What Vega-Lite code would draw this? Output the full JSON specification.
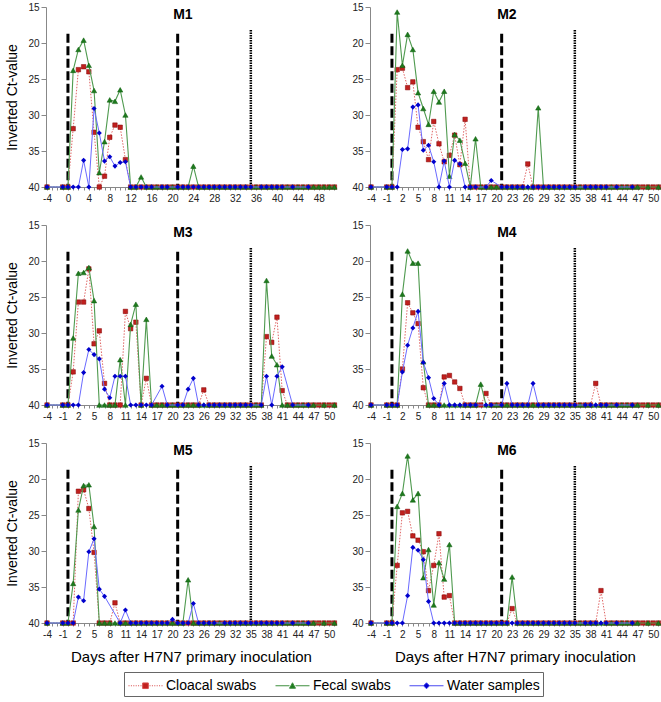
{
"$schema": "https://vega.github.io/schema/vega-lite/v6.json",
"padding": {"left": 5, "top": 2, "right": 0, "bottom": 0},
"config": {
  "view": {"stroke": null},
  "font": "Liberation Sans",
  "axis": {"grid": false, "labelFont": "Liberation Sans", "labelFontSize": 10, "labelColor": "#222", "titleFont": "Liberation Sans", "titleFontSize": 14, "titleFontWeight": "normal", "titleColor": "#000", "domainColor": "#888", "tickColor": "#888", "labelOverlap": false},
  "axisX": {"labelFlush": false, "tickSize": 3, "labelPadding": 3},
  "axisY": {"tickSize": 5, "labelPadding": 2, "titlePadding": 8},
  "legend": {"orient": "bottom", "direction": "horizontal", "labelFont": "Liberation Sans", "labelFontSize": 14, "labelColor": "#000", "symbolSize": 400, "symbolStrokeWidth": 1, "strokeColor": "#666", "padding": 3, "columnPadding": 16, "labelOffset": 18, "offset": 8, "layout": {"bottom": {"anchor": "middle"}}}
},
"datasets": {
"M1": [
{"d":-4,"c":40,"f":40,"w":40},{"d":-1,"c":40,"f":40,"w":40},{"d":0,"c":40,"f":40,"w":40},
{"d":1,"c":31.9,"f":23.8,"w":40},{"d":2,"c":23.7,"f":20.9,"w":40},{"d":3,"c":23.3,"f":19.6,"w":36.3},
{"d":4,"c":24.0,"f":23.1,"w":40},{"d":5,"c":32.4,"f":26.6,"w":29.1},{"d":6,"c":40,"f":38.0,"w":32.5},
{"d":7,"c":38.5,"f":33.7,"w":36.4},{"d":8,"c":33.1,"f":27.9,"w":35.8},{"d":9,"c":31.4,"f":28.1,"w":37.1},
{"d":10,"c":31.7,"f":26.5,"w":36.6},{"d":11,"c":36.2,"f":30.0,"w":36.5},{"d":12,"c":40,"f":40,"w":40},
{"d":13,"c":40,"f":40,"w":40},{"d":14,"c":40,"f":38.6,"w":40},{"d":15,"c":40,"f":40,"w":40},
{"d":16,"c":40,"f":40,"w":40},{"d":17,"c":40,"f":40,"w":null},{"d":18,"c":40,"f":40,"w":40},
{"d":19,"c":40,"f":40,"w":40},{"d":20,"c":40,"f":40,"w":null},{"d":21,"c":40,"f":40,"w":40},
{"d":22,"c":40,"f":40,"w":40},{"d":23,"c":40,"f":40,"w":40},{"d":24,"c":40,"f":37.1,"w":40},
{"d":25,"c":40,"f":40,"w":40},{"d":26,"c":40,"f":40,"w":40},{"d":27,"c":40,"f":40,"w":40},
{"d":28,"c":40,"f":40,"w":40},{"d":29,"c":40,"f":40,"w":40},{"d":30,"c":40,"f":40,"w":40},
{"d":31,"c":40,"f":40,"w":40},{"d":32,"c":40,"f":40,"w":40},{"d":33,"c":40,"f":40,"w":40},
{"d":34,"c":40,"f":40,"w":40},{"d":35,"c":40,"f":40,"w":40},{"d":36,"c":40,"f":40,"w":null},
{"d":37,"c":40,"f":40,"w":40},{"d":38,"c":40,"f":40,"w":40},{"d":39,"c":40,"f":40,"w":40},
{"d":40,"c":40,"f":40,"w":40},{"d":41,"c":40,"f":40,"w":40},{"d":42,"c":40,"f":40,"w":null},
{"d":43,"c":40,"f":40,"w":40},{"d":44,"c":40,"f":40,"w":null},{"d":45,"c":40,"f":40,"w":null},
{"d":46,"c":40,"f":40,"w":40},{"d":47,"c":40,"f":40,"w":null},{"d":48,"c":40,"f":40,"w":null},
{"d":49,"c":40,"f":40,"w":null},{"d":50,"c":40,"f":40,"w":null},{"d":51,"c":40,"f":40,"w":null}
],
"M2": [
{"d":-4,"c":40,"f":40,"w":40},{"d":-1,"c":40,"f":40,"w":40},{"d":0,"c":40,"f":40,"w":40},
{"d":1,"c":23.7,"f":15.7,"w":40},{"d":2,"c":23.5,"f":23.1,"w":34.8},{"d":3,"c":26.2,"f":18.8,"w":34.7},
{"d":4,"c":25.4,"f":20.9,"w":28.9},{"d":5,"c":31.7,"f":26.9,"w":28.6},{"d":6,"c":33.7,"f":29.1,"w":34.9},
{"d":7,"c":36.2,"f":31.3,"w":34.2},{"d":8,"c":30.9,"f":26.7,"w":36.5},{"d":9,"c":34.0,"f":28.2,"w":40},
{"d":10,"c":36.5,"f":26.7,"w":36.4},{"d":11,"c":35.6,"f":38.5,"w":40},{"d":12,"c":32.8,"f":32.7,"w":36.3},
{"d":13,"c":36.9,"f":33.5,"w":36.8},{"d":14,"c":30.6,"f":36.7,"w":40},{"d":15,"c":40,"f":40,"w":40},
{"d":16,"c":40,"f":33.3,"w":40},{"d":17,"c":40,"f":40,"w":null},{"d":18,"c":40,"f":40,"w":40},
{"d":19,"c":40,"f":40,"w":39.1},{"d":20,"c":40,"f":40,"w":null},{"d":21,"c":40,"f":40,"w":40},
{"d":22,"c":40,"f":40,"w":40},{"d":23,"c":40,"f":40,"w":40},{"d":24,"c":40,"f":40,"w":40},
{"d":25,"c":40,"f":40,"w":40},{"d":26,"c":36.8,"f":40,"w":40},{"d":27,"c":40,"f":40,"w":40},
{"d":28,"c":40,"f":29.0,"w":40},{"d":29,"c":40,"f":40,"w":40},{"d":30,"c":40,"f":40,"w":40},
{"d":31,"c":40,"f":40,"w":40},{"d":32,"c":40,"f":40,"w":40},{"d":33,"c":40,"f":40,"w":40},
{"d":34,"c":40,"f":40,"w":40},{"d":35,"c":40,"f":40,"w":40},{"d":36,"c":40,"f":40,"w":null},
{"d":37,"c":40,"f":40,"w":40},{"d":38,"c":40,"f":40,"w":40},{"d":39,"c":40,"f":40,"w":40},
{"d":40,"c":40,"f":40,"w":40},{"d":41,"c":40,"f":40,"w":40},{"d":42,"c":40,"f":40,"w":null},
{"d":43,"c":40,"f":40,"w":40},{"d":44,"c":40,"f":40,"w":null},{"d":45,"c":40,"f":40,"w":null},
{"d":46,"c":40,"f":40,"w":40},{"d":47,"c":40,"f":40,"w":null},{"d":48,"c":40,"f":null,"w":null},
{"d":49,"c":40,"f":40,"w":null},{"d":50,"c":40,"f":null,"w":null},{"d":51,"c":40,"f":40,"w":null}
],
"M3": [
{"d":-4,"c":40,"f":40,"w":40},{"d":-1,"c":40,"f":40,"w":40},{"d":0,"c":40,"f":40,"w":40},
{"d":1,"c":35.4,"f":30.7,"w":40},{"d":2,"c":25.7,"f":21.7,"w":40},{"d":3,"c":25.7,"f":21.6,"w":35.5},
{"d":4,"c":21.1,"f":20.9,"w":32.3},{"d":5,"c":31.5,"f":25.5,"w":33.0},{"d":6,"c":29.7,"f":40,"w":33.6},
{"d":7,"c":37.0,"f":40,"w":37.8},{"d":8,"c":40,"f":40,"w":39.0},{"d":9,"c":40,"f":40,"w":36.0},
{"d":10,"c":40,"f":33.7,"w":36.0},{"d":11,"c":27.0,"f":40,"w":36.0},{"d":12,"c":29.4,"f":28.8,"w":40},
{"d":13,"c":28.5,"f":26.0,"w":40},{"d":14,"c":40,"f":40,"w":40},{"d":15,"c":36.3,"f":28.1,"w":40},
{"d":16,"c":40,"f":40,"w":40},{"d":17,"c":40,"f":40,"w":null},{"d":18,"c":40,"f":40,"w":37.4},
{"d":19,"c":40,"f":40,"w":40},{"d":20,"c":40,"f":40,"w":null},{"d":21,"c":40,"f":40,"w":40},
{"d":22,"c":40,"f":40,"w":40},{"d":23,"c":40,"f":40,"w":37.8},{"d":24,"c":40,"f":40,"w":36.3},
{"d":25,"c":40,"f":40,"w":40},{"d":26,"c":37.9,"f":40,"w":40},{"d":27,"c":40,"f":40,"w":40},
{"d":28,"c":40,"f":40,"w":40},{"d":29,"c":40,"f":40,"w":40},{"d":30,"c":40,"f":40,"w":40},
{"d":31,"c":40,"f":40,"w":40},{"d":32,"c":40,"f":40,"w":40},{"d":33,"c":40,"f":40,"w":40},
{"d":34,"c":40,"f":40,"w":40},{"d":35,"c":40,"f":40,"w":40},{"d":36,"c":40,"f":40,"w":null},
{"d":37,"c":40,"f":40,"w":40},{"d":38,"c":30.5,"f":22.7,"w":36.0},{"d":39,"c":31.3,"f":33.2,"w":40},
{"d":40,"c":27.8,"f":34.4,"w":36.0},{"d":41,"c":38.0,"f":40,"w":34.7},{"d":42,"c":40,"f":40,"w":null},
{"d":43,"c":40,"f":40,"w":40},{"d":44,"c":40,"f":40,"w":null},{"d":45,"c":40,"f":40,"w":null},
{"d":46,"c":40,"f":40,"w":40},{"d":47,"c":40,"f":40,"w":null},{"d":48,"c":40,"f":null,"w":null},
{"d":49,"c":40,"f":40,"w":null},{"d":50,"c":40,"f":null,"w":null},{"d":51,"c":40,"f":40,"w":null}
],
"M4": [
{"d":-4,"c":40,"f":40,"w":40},{"d":-1,"c":40,"f":40,"w":40},{"d":0,"c":40,"f":40,"w":40},
{"d":1,"c":40,"f":40,"w":40},{"d":2,"c":35.0,"f":24.6,"w":35.4},{"d":3,"c":25.8,"f":18.6,"w":31.7},
{"d":4,"c":27.2,"f":20.3,"w":29.3},{"d":5,"c":28.7,"f":20.3,"w":27.0},{"d":6,"c":37.6,"f":34.0,"w":34.1},
{"d":7,"c":40,"f":40,"w":36.2},{"d":8,"c":40,"f":40,"w":39.1},{"d":9,"c":40,"f":40,"w":40},
{"d":10,"c":36.1,"f":40,"w":37.0},{"d":11,"c":35.9,"f":40,"w":40},{"d":12,"c":36.8,"f":40,"w":40},
{"d":13,"c":37.7,"f":40,"w":40},{"d":14,"c":40,"f":40,"w":40},{"d":15,"c":40,"f":40,"w":40},
{"d":16,"c":40,"f":40,"w":40},{"d":17,"c":40,"f":37.1,"w":null},{"d":18,"c":38.4,"f":40,"w":40},
{"d":19,"c":40,"f":40,"w":40},{"d":20,"c":40,"f":40,"w":null},{"d":21,"c":40,"f":40,"w":40},
{"d":22,"c":40,"f":40,"w":37.0},{"d":23,"c":40,"f":40,"w":40},{"d":24,"c":40,"f":40,"w":40},
{"d":25,"c":40,"f":40,"w":40},{"d":26,"c":40,"f":40,"w":40},{"d":27,"c":40,"f":40,"w":37.0},
{"d":28,"c":40,"f":40,"w":40},{"d":29,"c":40,"f":40,"w":40},{"d":30,"c":40,"f":40,"w":40},
{"d":31,"c":40,"f":40,"w":40},{"d":32,"c":40,"f":40,"w":40},{"d":33,"c":40,"f":40,"w":40},
{"d":34,"c":40,"f":40,"w":40},{"d":35,"c":40,"f":40,"w":40},{"d":36,"c":40,"f":40,"w":null},
{"d":37,"c":40,"f":40,"w":40},{"d":38,"c":40,"f":40,"w":40},{"d":39,"c":37.0,"f":40,"w":40},
{"d":40,"c":40,"f":40,"w":40},{"d":41,"c":40,"f":40,"w":40},{"d":42,"c":40,"f":40,"w":null},
{"d":43,"c":40,"f":40,"w":40},{"d":44,"c":40,"f":40,"w":null},{"d":45,"c":40,"f":40,"w":null},
{"d":46,"c":40,"f":40,"w":40},{"d":47,"c":40,"f":40,"w":null},{"d":48,"c":40,"f":null,"w":null},
{"d":49,"c":40,"f":40,"w":null},{"d":50,"c":40,"f":null,"w":null},{"d":51,"c":40,"f":40,"w":null}
],
"M5": [
{"d":-4,"c":40,"f":40,"w":40},{"d":-1,"c":40,"f":40,"w":40},{"d":0,"c":40,"f":40,"w":40},
{"d":1,"c":40,"f":34.5,"w":40},{"d":2,"c":21.7,"f":24.3,"w":36.4},{"d":3,"c":21.5,"f":20.9,"w":36.9},
{"d":4,"c":24.1,"f":20.8,"w":30.1},{"d":5,"c":30.2,"f":26.6,"w":28.3},{"d":6,"c":40,"f":40,"w":35.3},
{"d":7,"c":40,"f":40,"w":36.3},{"d":8,"c":40,"f":40,"w":null},{"d":9,"c":37.2,"f":40,"w":null},
{"d":10,"c":40,"f":40,"w":40},{"d":11,"c":40,"f":40,"w":38.2},{"d":12,"c":40,"f":40,"w":40},
{"d":13,"c":40,"f":40,"w":40},{"d":14,"c":40,"f":40,"w":40},{"d":15,"c":40,"f":40,"w":40},
{"d":16,"c":40,"f":40,"w":40},{"d":17,"c":40,"f":40,"w":40},{"d":18,"c":40,"f":40,"w":40},
{"d":19,"c":40,"f":40,"w":40},{"d":20,"c":40,"f":40,"w":39.5},{"d":21,"c":40,"f":40,"w":40},
{"d":22,"c":40,"f":40,"w":40},{"d":23,"c":40,"f":34.0,"w":40},{"d":24,"c":40,"f":40,"w":37.3},
{"d":25,"c":40,"f":40,"w":40},{"d":26,"c":40,"f":40,"w":40},{"d":27,"c":40,"f":40,"w":40},
{"d":28,"c":40,"f":40,"w":40},{"d":29,"c":40,"f":40,"w":null},{"d":30,"c":40,"f":40,"w":40},
{"d":31,"c":40,"f":40,"w":40},{"d":32,"c":40,"f":40,"w":40},{"d":33,"c":40,"f":40,"w":40},
{"d":34,"c":40,"f":40,"w":40},{"d":35,"c":40,"f":40,"w":40},{"d":36,"c":40,"f":40,"w":40},
{"d":37,"c":40,"f":40,"w":40},{"d":38,"c":40,"f":40,"w":40},{"d":39,"c":40,"f":40,"w":40},
{"d":40,"c":40,"f":40,"w":40},{"d":41,"c":40,"f":40,"w":40},{"d":42,"c":40,"f":40,"w":null},
{"d":43,"c":40,"f":40,"w":40},{"d":44,"c":40,"f":40,"w":null},{"d":45,"c":40,"f":40,"w":null},
{"d":46,"c":40,"f":40,"w":40},{"d":47,"c":40,"f":40,"w":null},{"d":48,"c":40,"f":null,"w":null},
{"d":49,"c":40,"f":40,"w":null},{"d":50,"c":40,"f":null,"w":null},{"d":51,"c":40,"f":40,"w":null}
],
"M6": [
{"d":-4,"c":40,"f":40,"w":40},{"d":-1,"c":40,"f":40,"w":40},{"d":0,"c":40,"f":40,"w":40},
{"d":1,"c":32.0,"f":23.8,"w":40},{"d":2,"c":24.7,"f":22.0,"w":40},{"d":3,"c":24.5,"f":16.8,"w":36.2},
{"d":4,"c":27.9,"f":22.9,"w":29.5},{"d":5,"c":28.5,"f":22.0,"w":29.9},{"d":6,"c":30.1,"f":33.7,"w":31.2},
{"d":7,"c":35.5,"f":29.8,"w":37.0},{"d":8,"c":32.0,"f":37.5,"w":40},{"d":9,"c":27.6,"f":31.6,"w":40},
{"d":10,"c":36.4,"f":33.9,"w":40},{"d":11,"c":36.2,"f":29.1,"w":40},{"d":12,"c":40,"f":40,"w":40},
{"d":13,"c":40,"f":40,"w":40},{"d":14,"c":40,"f":40,"w":40},{"d":15,"c":40,"f":40,"w":40},
{"d":16,"c":40,"f":40,"w":40},{"d":17,"c":40,"f":40,"w":40},{"d":18,"c":40,"f":40,"w":40},
{"d":19,"c":40,"f":40,"w":40},{"d":20,"c":40,"f":40,"w":40},{"d":21,"c":40,"f":40,"w":40},
{"d":22,"c":40,"f":40,"w":40},{"d":23,"c":38.0,"f":33.6,"w":40},{"d":24,"c":40,"f":40,"w":40},
{"d":25,"c":40,"f":40,"w":40},{"d":26,"c":40,"f":40,"w":40},{"d":27,"c":40,"f":40,"w":40},
{"d":28,"c":40,"f":40,"w":40},{"d":29,"c":40,"f":40,"w":40},{"d":30,"c":40,"f":40,"w":40},
{"d":31,"c":40,"f":40,"w":40},{"d":32,"c":40,"f":40,"w":40},{"d":33,"c":40,"f":40,"w":40},
{"d":34,"c":40,"f":40,"w":40},{"d":35,"c":40,"f":40,"w":40},{"d":36,"c":40,"f":40,"w":null},
{"d":37,"c":40,"f":40,"w":40},{"d":38,"c":40,"f":40,"w":40},{"d":39,"c":40,"f":40,"w":40},
{"d":40,"c":35.5,"f":40,"w":40},{"d":41,"c":40,"f":40,"w":40},{"d":42,"c":40,"f":40,"w":null},
{"d":43,"c":40,"f":40,"w":40},{"d":44,"c":40,"f":40,"w":null},{"d":45,"c":40,"f":40,"w":null},
{"d":46,"c":40,"f":40,"w":40},{"d":47,"c":40,"f":40,"w":null},{"d":48,"c":40,"f":null,"w":null},
{"d":49,"c":40,"f":40,"w":null},{"d":50,"c":40,"f":null,"w":null},{"d":51,"c":40,"f":40,"w":null}
]
},
"columns": 2,
"spacing": {"row": 38, "column": 34},
"bounds": "flush",
"concat": [
{"width": 290, "height": 180,
 "layer": [
  {"data": {"values": [{}]}, "mark": {"type": "rule", "color": "#000", "strokeWidth": 3, "strokeDash": [9, 3.5]}, "encoding": {
    "x": {"datum": 0, "type": "quantitative", "scale": {"domain": [-4.2, 51.3], "nice": false, "zero": false}, "axis": {"tickCount": 56, "tickMinStep": 1, "labelExpr": "(datum.value+4)%4==0 ? '' + datum.value : ''", "title": null}},
    "y": {"datum": 18.7, "type": "quantitative", "scale": {"domain": [15, 40], "reverse": true, "nice": false, "zero": false}, "axis": {"tickCount": 5, "title": "Inverted Ct-value"}},
    "y2": {"datum": 40}}},
  {"data": {"values": [{}]}, "mark": {"type": "rule", "color": "#000", "strokeWidth": 3, "strokeDash": [9, 3.5]}, "encoding": {
    "x": {"datum": 21, "type": "quantitative", "scale": {"domain": [-4.2, 51.3], "nice": false, "zero": false}, "axis": {"tickCount": 56, "tickMinStep": 1, "labelExpr": "(datum.value+4)%4==0 ? '' + datum.value : ''", "title": null}},
    "y": {"datum": 18.7, "type": "quantitative", "scale": {"domain": [15, 40], "reverse": true, "nice": false, "zero": false}, "axis": {"tickCount": 5, "title": "Inverted Ct-value"}},
    "y2": {"datum": 40}}},
  {"data": {"values": [{}]}, "mark": {"type": "rule", "color": "#000", "strokeWidth": 2.5, "strokeDash": [1.5, 1]}, "encoding": {
    "x": {"datum": 35, "type": "quantitative", "scale": {"domain": [-4.2, 51.3], "nice": false, "zero": false}, "axis": {"tickCount": 56, "tickMinStep": 1, "labelExpr": "(datum.value+4)%4==0 ? '' + datum.value : ''", "title": null}},
    "y": {"datum": 18.2, "type": "quantitative", "scale": {"domain": [15, 40], "reverse": true, "nice": false, "zero": false}, "axis": {"tickCount": 5, "title": "Inverted Ct-value"}},
    "y2": {"datum": 40}}},
  {"data": {"name": "M1"}, "transform": [{"fold": ["c", "f", "w"], "as": ["s", "val"]}, {"filter": "isValid(datum.val)"}],
   "encoding": {
    "x": {"field": "d", "type": "quantitative", "scale": {"domain": [-4.2, 51.3], "nice": false, "zero": false}, "axis": {"tickCount": 56, "tickMinStep": 1, "labelExpr": "(datum.value+4)%4==0 ? '' + datum.value : ''", "title": null}},
    "y": {"field": "val", "type": "quantitative", "scale": {"domain": [15, 40], "reverse": true, "nice": false, "zero": false}, "axis": {"tickCount": 5, "title": "Inverted Ct-value"}}},
   "layer": [
    {"transform": [{"filter": "datum.s=='c'"}], "mark": {"type": "line", "color": "#e06666", "strokeWidth": 1, "strokeDash": [1.5, 1.5]}, "encoding": {}},
    {"transform": [{"filter": "datum.s=='c'"}], "mark": {"type": "point", "shape": "square", "filled": true, "color": "#c0201e", "stroke": "#800000", "strokeWidth": 0.5, "size": 20, "opacity": 1}, "encoding": {}},
    {"transform": [{"filter": "datum.s=='f'"}], "mark": {"type": "line", "color": "#4f9a4f", "strokeWidth": 1.1}, "encoding": {}},
    {"transform": [{"filter": "datum.s=='f'"}], "mark": {"type": "point", "shape": "triangle-up", "filled": true, "color": "#1e7b1e", "stroke": "#0b5a0b", "strokeWidth": 0.5, "size": 28, "opacity": 1}, "encoding": {}},
    {"transform": [{"filter": "datum.s=='w'"}], "mark": {"type": "line", "color": "#6a6aff", "strokeWidth": 1}, "encoding": {}},
    {"transform": [{"filter": "datum.s=='w'"}], "mark": {"type": "point", "shape": "diamond", "filled": true, "color": "#0000cc", "size": 26, "opacity": 1}, "encoding": {}}]},
  {"data": {"values": [{}]}, "mark": {"type": "text", "font": "Liberation Sans", "fontSize": 14, "fontWeight": "bold", "color": "#000"}, "encoding": {
    "x": {"datum": 22, "type": "quantitative", "scale": {"domain": [-4.2, 51.3], "nice": false, "zero": false}, "axis": {"tickCount": 56, "tickMinStep": 1, "labelExpr": "(datum.value+4)%4==0 ? '' + datum.value : ''", "title": null}},
    "y": {"datum": 16.1, "type": "quantitative", "scale": {"domain": [15, 40], "reverse": true, "nice": false, "zero": false}, "axis": {"tickCount": 5, "title": "Inverted Ct-value"}},
    "text": {"value": "M1"}}}
 ]},
{"width": 290, "height": 180,
 "layer": [
  {"data": {"values": [{}]}, "mark": {"type": "rule", "color": "#000", "strokeWidth": 3, "strokeDash": [9, 3.5]}, "encoding": {
    "x": {"datum": 0, "type": "quantitative", "scale": {"domain": [-4.2, 51.3], "nice": false, "zero": false}, "axis": {"tickCount": 56, "tickMinStep": 1, "labelExpr": "(datum.value+4)%3==0 ? '' + datum.value : ''", "title": null}},
    "y": {"datum": 18.7, "type": "quantitative", "scale": {"domain": [15, 40], "reverse": true, "nice": false, "zero": false}, "axis": {"tickCount": 5, "title": null}},
    "y2": {"datum": 40}}},
  {"data": {"values": [{}]}, "mark": {"type": "rule", "color": "#000", "strokeWidth": 3, "strokeDash": [9, 3.5]}, "encoding": {
    "x": {"datum": 21, "type": "quantitative", "scale": {"domain": [-4.2, 51.3], "nice": false, "zero": false}, "axis": {"tickCount": 56, "tickMinStep": 1, "labelExpr": "(datum.value+4)%3==0 ? '' + datum.value : ''", "title": null}},
    "y": {"datum": 18.7, "type": "quantitative", "scale": {"domain": [15, 40], "reverse": true, "nice": false, "zero": false}, "axis": {"tickCount": 5, "title": null}},
    "y2": {"datum": 40}}},
  {"data": {"values": [{}]}, "mark": {"type": "rule", "color": "#000", "strokeWidth": 2.5, "strokeDash": [1.5, 1]}, "encoding": {
    "x": {"datum": 35, "type": "quantitative", "scale": {"domain": [-4.2, 51.3], "nice": false, "zero": false}, "axis": {"tickCount": 56, "tickMinStep": 1, "labelExpr": "(datum.value+4)%3==0 ? '' + datum.value : ''", "title": null}},
    "y": {"datum": 18.2, "type": "quantitative", "scale": {"domain": [15, 40], "reverse": true, "nice": false, "zero": false}, "axis": {"tickCount": 5, "title": null}},
    "y2": {"datum": 40}}},
  {"data": {"name": "M2"}, "transform": [{"fold": ["c", "f", "w"], "as": ["s", "val"]}, {"filter": "isValid(datum.val)"}],
   "encoding": {
    "x": {"field": "d", "type": "quantitative", "scale": {"domain": [-4.2, 51.3], "nice": false, "zero": false}, "axis": {"tickCount": 56, "tickMinStep": 1, "labelExpr": "(datum.value+4)%3==0 ? '' + datum.value : ''", "title": null}},
    "y": {"field": "val", "type": "quantitative", "scale": {"domain": [15, 40], "reverse": true, "nice": false, "zero": false}, "axis": {"tickCount": 5, "title": null}}},
   "layer": [
    {"transform": [{"filter": "datum.s=='c'"}], "mark": {"type": "line", "color": "#e06666", "strokeWidth": 1, "strokeDash": [1.5, 1.5]}, "encoding": {}},
    {"transform": [{"filter": "datum.s=='c'"}], "mark": {"type": "point", "shape": "square", "filled": true, "color": "#c0201e", "stroke": "#800000", "strokeWidth": 0.5, "size": 20, "opacity": 1}, "encoding": {}},
    {"transform": [{"filter": "datum.s=='f'"}], "mark": {"type": "line", "color": "#4f9a4f", "strokeWidth": 1.1}, "encoding": {}},
    {"transform": [{"filter": "datum.s=='f'"}], "mark": {"type": "point", "shape": "triangle-up", "filled": true, "color": "#1e7b1e", "stroke": "#0b5a0b", "strokeWidth": 0.5, "size": 28, "opacity": 1}, "encoding": {}},
    {"transform": [{"filter": "datum.s=='w'"}], "mark": {"type": "line", "color": "#6a6aff", "strokeWidth": 1}, "encoding": {}},
    {"transform": [{"filter": "datum.s=='w'"}], "mark": {"type": "point", "shape": "diamond", "filled": true, "color": "#0000cc", "size": 26, "opacity": 1}, "encoding": {}}]},
  {"data": {"values": [{}]}, "mark": {"type": "text", "font": "Liberation Sans", "fontSize": 14, "fontWeight": "bold", "color": "#000"}, "encoding": {
    "x": {"datum": 22, "type": "quantitative", "scale": {"domain": [-4.2, 51.3], "nice": false, "zero": false}, "axis": {"tickCount": 56, "tickMinStep": 1, "labelExpr": "(datum.value+4)%3==0 ? '' + datum.value : ''", "title": null}},
    "y": {"datum": 16.1, "type": "quantitative", "scale": {"domain": [15, 40], "reverse": true, "nice": false, "zero": false}, "axis": {"tickCount": 5, "title": null}},
    "text": {"value": "M2"}}}
 ]},
{"width": 290, "height": 180,
 "layer": [
  {"data": {"values": [{}]}, "mark": {"type": "rule", "color": "#000", "strokeWidth": 3, "strokeDash": [9, 3.5]}, "encoding": {
    "x": {"datum": 0, "type": "quantitative", "scale": {"domain": [-4.2, 51.3], "nice": false, "zero": false}, "axis": {"tickCount": 56, "tickMinStep": 1, "labelExpr": "(datum.value+4)%3==0 ? '' + datum.value : ''", "title": null}},
    "y": {"datum": 18.7, "type": "quantitative", "scale": {"domain": [15, 40], "reverse": true, "nice": false, "zero": false}, "axis": {"tickCount": 5, "title": "Inverted Ct-value"}},
    "y2": {"datum": 40}}},
  {"data": {"values": [{}]}, "mark": {"type": "rule", "color": "#000", "strokeWidth": 3, "strokeDash": [9, 3.5]}, "encoding": {
    "x": {"datum": 21, "type": "quantitative", "scale": {"domain": [-4.2, 51.3], "nice": false, "zero": false}, "axis": {"tickCount": 56, "tickMinStep": 1, "labelExpr": "(datum.value+4)%3==0 ? '' + datum.value : ''", "title": null}},
    "y": {"datum": 18.7, "type": "quantitative", "scale": {"domain": [15, 40], "reverse": true, "nice": false, "zero": false}, "axis": {"tickCount": 5, "title": "Inverted Ct-value"}},
    "y2": {"datum": 40}}},
  {"data": {"values": [{}]}, "mark": {"type": "rule", "color": "#000", "strokeWidth": 2.5, "strokeDash": [1.5, 1]}, "encoding": {
    "x": {"datum": 35, "type": "quantitative", "scale": {"domain": [-4.2, 51.3], "nice": false, "zero": false}, "axis": {"tickCount": 56, "tickMinStep": 1, "labelExpr": "(datum.value+4)%3==0 ? '' + datum.value : ''", "title": null}},
    "y": {"datum": 18.2, "type": "quantitative", "scale": {"domain": [15, 40], "reverse": true, "nice": false, "zero": false}, "axis": {"tickCount": 5, "title": "Inverted Ct-value"}},
    "y2": {"datum": 40}}},
  {"data": {"name": "M3"}, "transform": [{"fold": ["c", "f", "w"], "as": ["s", "val"]}, {"filter": "isValid(datum.val)"}],
   "encoding": {
    "x": {"field": "d", "type": "quantitative", "scale": {"domain": [-4.2, 51.3], "nice": false, "zero": false}, "axis": {"tickCount": 56, "tickMinStep": 1, "labelExpr": "(datum.value+4)%3==0 ? '' + datum.value : ''", "title": null}},
    "y": {"field": "val", "type": "quantitative", "scale": {"domain": [15, 40], "reverse": true, "nice": false, "zero": false}, "axis": {"tickCount": 5, "title": "Inverted Ct-value"}}},
   "layer": [
    {"transform": [{"filter": "datum.s=='c'"}], "mark": {"type": "line", "color": "#e06666", "strokeWidth": 1, "strokeDash": [1.5, 1.5]}, "encoding": {}},
    {"transform": [{"filter": "datum.s=='c'"}], "mark": {"type": "point", "shape": "square", "filled": true, "color": "#c0201e", "stroke": "#800000", "strokeWidth": 0.5, "size": 20, "opacity": 1}, "encoding": {}},
    {"transform": [{"filter": "datum.s=='f'"}], "mark": {"type": "line", "color": "#4f9a4f", "strokeWidth": 1.1}, "encoding": {}},
    {"transform": [{"filter": "datum.s=='f'"}], "mark": {"type": "point", "shape": "triangle-up", "filled": true, "color": "#1e7b1e", "stroke": "#0b5a0b", "strokeWidth": 0.5, "size": 28, "opacity": 1}, "encoding": {}},
    {"transform": [{"filter": "datum.s=='w'"}], "mark": {"type": "line", "color": "#6a6aff", "strokeWidth": 1}, "encoding": {}},
    {"transform": [{"filter": "datum.s=='w'"}], "mark": {"type": "point", "shape": "diamond", "filled": true, "color": "#0000cc", "size": 26, "opacity": 1}, "encoding": {}}]},
  {"data": {"values": [{}]}, "mark": {"type": "text", "font": "Liberation Sans", "fontSize": 14, "fontWeight": "bold", "color": "#000"}, "encoding": {
    "x": {"datum": 22, "type": "quantitative", "scale": {"domain": [-4.2, 51.3], "nice": false, "zero": false}, "axis": {"tickCount": 56, "tickMinStep": 1, "labelExpr": "(datum.value+4)%3==0 ? '' + datum.value : ''", "title": null}},
    "y": {"datum": 16.1, "type": "quantitative", "scale": {"domain": [15, 40], "reverse": true, "nice": false, "zero": false}, "axis": {"tickCount": 5, "title": "Inverted Ct-value"}},
    "text": {"value": "M3"}}}
 ]},
{"width": 290, "height": 180,
 "layer": [
  {"data": {"values": [{}]}, "mark": {"type": "rule", "color": "#000", "strokeWidth": 3, "strokeDash": [9, 3.5]}, "encoding": {
    "x": {"datum": 0, "type": "quantitative", "scale": {"domain": [-4.2, 51.3], "nice": false, "zero": false}, "axis": {"tickCount": 56, "tickMinStep": 1, "labelExpr": "(datum.value+4)%3==0 ? '' + datum.value : ''", "title": null}},
    "y": {"datum": 18.7, "type": "quantitative", "scale": {"domain": [15, 40], "reverse": true, "nice": false, "zero": false}, "axis": {"tickCount": 5, "title": null}},
    "y2": {"datum": 40}}},
  {"data": {"values": [{}]}, "mark": {"type": "rule", "color": "#000", "strokeWidth": 3, "strokeDash": [9, 3.5]}, "encoding": {
    "x": {"datum": 21, "type": "quantitative", "scale": {"domain": [-4.2, 51.3], "nice": false, "zero": false}, "axis": {"tickCount": 56, "tickMinStep": 1, "labelExpr": "(datum.value+4)%3==0 ? '' + datum.value : ''", "title": null}},
    "y": {"datum": 18.7, "type": "quantitative", "scale": {"domain": [15, 40], "reverse": true, "nice": false, "zero": false}, "axis": {"tickCount": 5, "title": null}},
    "y2": {"datum": 40}}},
  {"data": {"values": [{}]}, "mark": {"type": "rule", "color": "#000", "strokeWidth": 2.5, "strokeDash": [1.5, 1]}, "encoding": {
    "x": {"datum": 35, "type": "quantitative", "scale": {"domain": [-4.2, 51.3], "nice": false, "zero": false}, "axis": {"tickCount": 56, "tickMinStep": 1, "labelExpr": "(datum.value+4)%3==0 ? '' + datum.value : ''", "title": null}},
    "y": {"datum": 18.2, "type": "quantitative", "scale": {"domain": [15, 40], "reverse": true, "nice": false, "zero": false}, "axis": {"tickCount": 5, "title": null}},
    "y2": {"datum": 40}}},
  {"data": {"name": "M4"}, "transform": [{"fold": ["c", "f", "w"], "as": ["s", "val"]}, {"filter": "isValid(datum.val)"}],
   "encoding": {
    "x": {"field": "d", "type": "quantitative", "scale": {"domain": [-4.2, 51.3], "nice": false, "zero": false}, "axis": {"tickCount": 56, "tickMinStep": 1, "labelExpr": "(datum.value+4)%3==0 ? '' + datum.value : ''", "title": null}},
    "y": {"field": "val", "type": "quantitative", "scale": {"domain": [15, 40], "reverse": true, "nice": false, "zero": false}, "axis": {"tickCount": 5, "title": null}}},
   "layer": [
    {"transform": [{"filter": "datum.s=='c'"}], "mark": {"type": "line", "color": "#e06666", "strokeWidth": 1, "strokeDash": [1.5, 1.5]}, "encoding": {}},
    {"transform": [{"filter": "datum.s=='c'"}], "mark": {"type": "point", "shape": "square", "filled": true, "color": "#c0201e", "stroke": "#800000", "strokeWidth": 0.5, "size": 20, "opacity": 1}, "encoding": {}},
    {"transform": [{"filter": "datum.s=='f'"}], "mark": {"type": "line", "color": "#4f9a4f", "strokeWidth": 1.1}, "encoding": {}},
    {"transform": [{"filter": "datum.s=='f'"}], "mark": {"type": "point", "shape": "triangle-up", "filled": true, "color": "#1e7b1e", "stroke": "#0b5a0b", "strokeWidth": 0.5, "size": 28, "opacity": 1}, "encoding": {}},
    {"transform": [{"filter": "datum.s=='w'"}], "mark": {"type": "line", "color": "#6a6aff", "strokeWidth": 1}, "encoding": {}},
    {"transform": [{"filter": "datum.s=='w'"}], "mark": {"type": "point", "shape": "diamond", "filled": true, "color": "#0000cc", "size": 26, "opacity": 1}, "encoding": {}}]},
  {"data": {"values": [{}]}, "mark": {"type": "text", "font": "Liberation Sans", "fontSize": 14, "fontWeight": "bold", "color": "#000"}, "encoding": {
    "x": {"datum": 22, "type": "quantitative", "scale": {"domain": [-4.2, 51.3], "nice": false, "zero": false}, "axis": {"tickCount": 56, "tickMinStep": 1, "labelExpr": "(datum.value+4)%3==0 ? '' + datum.value : ''", "title": null}},
    "y": {"datum": 16.1, "type": "quantitative", "scale": {"domain": [15, 40], "reverse": true, "nice": false, "zero": false}, "axis": {"tickCount": 5, "title": null}},
    "text": {"value": "M4"}}}
 ]},
{"width": 290, "height": 180,
 "layer": [
  {"data": {"values": [{}]}, "mark": {"type": "rule", "color": "#000", "strokeWidth": 3, "strokeDash": [9, 3.5]}, "encoding": {
    "x": {"datum": 0, "type": "quantitative", "scale": {"domain": [-4.2, 51.3], "nice": false, "zero": false}, "axis": {"tickCount": 56, "tickMinStep": 1, "labelExpr": "(datum.value+4)%3==0 ? '' + datum.value : ''", "title": "Days after H7N7 primary inoculation", "titleFontSize": 15, "titlePadding": 10}},
    "y": {"datum": 18.7, "type": "quantitative", "scale": {"domain": [15, 40], "reverse": true, "nice": false, "zero": false}, "axis": {"tickCount": 5, "title": "Inverted Ct-value"}},
    "y2": {"datum": 40}}},
  {"data": {"values": [{}]}, "mark": {"type": "rule", "color": "#000", "strokeWidth": 3, "strokeDash": [9, 3.5]}, "encoding": {
    "x": {"datum": 21, "type": "quantitative", "scale": {"domain": [-4.2, 51.3], "nice": false, "zero": false}, "axis": {"tickCount": 56, "tickMinStep": 1, "labelExpr": "(datum.value+4)%3==0 ? '' + datum.value : ''", "title": "Days after H7N7 primary inoculation", "titleFontSize": 15, "titlePadding": 10}},
    "y": {"datum": 18.7, "type": "quantitative", "scale": {"domain": [15, 40], "reverse": true, "nice": false, "zero": false}, "axis": {"tickCount": 5, "title": "Inverted Ct-value"}},
    "y2": {"datum": 40}}},
  {"data": {"values": [{}]}, "mark": {"type": "rule", "color": "#000", "strokeWidth": 2.5, "strokeDash": [1.5, 1]}, "encoding": {
    "x": {"datum": 35, "type": "quantitative", "scale": {"domain": [-4.2, 51.3], "nice": false, "zero": false}, "axis": {"tickCount": 56, "tickMinStep": 1, "labelExpr": "(datum.value+4)%3==0 ? '' + datum.value : ''", "title": "Days after H7N7 primary inoculation", "titleFontSize": 15, "titlePadding": 10}},
    "y": {"datum": 18.2, "type": "quantitative", "scale": {"domain": [15, 40], "reverse": true, "nice": false, "zero": false}, "axis": {"tickCount": 5, "title": "Inverted Ct-value"}},
    "y2": {"datum": 40}}},
  {"data": {"name": "M5"}, "transform": [{"fold": ["c", "f", "w"], "as": ["s", "val"]}, {"filter": "isValid(datum.val)"}],
   "encoding": {
    "x": {"field": "d", "type": "quantitative", "scale": {"domain": [-4.2, 51.3], "nice": false, "zero": false}, "axis": {"tickCount": 56, "tickMinStep": 1, "labelExpr": "(datum.value+4)%3==0 ? '' + datum.value : ''", "title": "Days after H7N7 primary inoculation", "titleFontSize": 15, "titlePadding": 10}},
    "y": {"field": "val", "type": "quantitative", "scale": {"domain": [15, 40], "reverse": true, "nice": false, "zero": false}, "axis": {"tickCount": 5, "title": "Inverted Ct-value"}}},
   "layer": [
    {"transform": [{"filter": "datum.s=='c'"}], "mark": {"type": "line", "color": "#e06666", "strokeWidth": 1, "strokeDash": [1.5, 1.5]}, "encoding": {}},
    {"transform": [{"filter": "datum.s=='c'"}], "mark": {"type": "point", "shape": "square", "filled": true, "color": "#c0201e", "stroke": "#800000", "strokeWidth": 0.5, "size": 20, "opacity": 1}, "encoding": {}},
    {"transform": [{"filter": "datum.s=='f'"}], "mark": {"type": "line", "color": "#4f9a4f", "strokeWidth": 1.1}, "encoding": {}},
    {"transform": [{"filter": "datum.s=='f'"}], "mark": {"type": "point", "shape": "triangle-up", "filled": true, "color": "#1e7b1e", "stroke": "#0b5a0b", "strokeWidth": 0.5, "size": 28, "opacity": 1}, "encoding": {}},
    {"transform": [{"filter": "datum.s=='w'"}], "mark": {"type": "line", "color": "#6a6aff", "strokeWidth": 1}, "encoding": {}},
    {"transform": [{"filter": "datum.s=='w'"}], "mark": {"type": "point", "shape": "diamond", "filled": true, "color": "#0000cc", "size": 26, "opacity": 1}, "encoding": {}}]},
  {"data": {"values": [{}]}, "mark": {"type": "text", "font": "Liberation Sans", "fontSize": 14, "fontWeight": "bold", "color": "#000"}, "encoding": {
    "x": {"datum": 22, "type": "quantitative", "scale": {"domain": [-4.2, 51.3], "nice": false, "zero": false}, "axis": {"tickCount": 56, "tickMinStep": 1, "labelExpr": "(datum.value+4)%3==0 ? '' + datum.value : ''", "title": "Days after H7N7 primary inoculation", "titleFontSize": 15, "titlePadding": 10}},
    "y": {"datum": 16.1, "type": "quantitative", "scale": {"domain": [15, 40], "reverse": true, "nice": false, "zero": false}, "axis": {"tickCount": 5, "title": "Inverted Ct-value"}},
    "text": {"value": "M5"}}}
 ]},
{"width": 290, "height": 180,
 "layer": [
  {"data": {"values": [{}]}, "mark": {"type": "rule", "color": "#000", "strokeWidth": 3, "strokeDash": [9, 3.5]}, "encoding": {
    "x": {"datum": 0, "type": "quantitative", "scale": {"domain": [-4.2, 51.3], "nice": false, "zero": false}, "axis": {"tickCount": 56, "tickMinStep": 1, "labelExpr": "(datum.value+4)%3==0 ? '' + datum.value : ''", "title": "Days after H7N7 primary inoculation", "titleFontSize": 15, "titlePadding": 10}},
    "y": {"datum": 18.7, "type": "quantitative", "scale": {"domain": [15, 40], "reverse": true, "nice": false, "zero": false}, "axis": {"tickCount": 5, "title": null}},
    "y2": {"datum": 40}}},
  {"data": {"values": [{}]}, "mark": {"type": "rule", "color": "#000", "strokeWidth": 3, "strokeDash": [9, 3.5]}, "encoding": {
    "x": {"datum": 21, "type": "quantitative", "scale": {"domain": [-4.2, 51.3], "nice": false, "zero": false}, "axis": {"tickCount": 56, "tickMinStep": 1, "labelExpr": "(datum.value+4)%3==0 ? '' + datum.value : ''", "title": "Days after H7N7 primary inoculation", "titleFontSize": 15, "titlePadding": 10}},
    "y": {"datum": 18.7, "type": "quantitative", "scale": {"domain": [15, 40], "reverse": true, "nice": false, "zero": false}, "axis": {"tickCount": 5, "title": null}},
    "y2": {"datum": 40}}},
  {"data": {"values": [{}]}, "mark": {"type": "rule", "color": "#000", "strokeWidth": 2.5, "strokeDash": [1.5, 1]}, "encoding": {
    "x": {"datum": 35, "type": "quantitative", "scale": {"domain": [-4.2, 51.3], "nice": false, "zero": false}, "axis": {"tickCount": 56, "tickMinStep": 1, "labelExpr": "(datum.value+4)%3==0 ? '' + datum.value : ''", "title": "Days after H7N7 primary inoculation", "titleFontSize": 15, "titlePadding": 10}},
    "y": {"datum": 18.2, "type": "quantitative", "scale": {"domain": [15, 40], "reverse": true, "nice": false, "zero": false}, "axis": {"tickCount": 5, "title": null}},
    "y2": {"datum": 40}}},
  {"data": {"name": "M6"}, "transform": [{"fold": ["c", "f", "w"], "as": ["s", "val"]}, {"filter": "isValid(datum.val)"}],
   "encoding": {
    "x": {"field": "d", "type": "quantitative", "scale": {"domain": [-4.2, 51.3], "nice": false, "zero": false}, "axis": {"tickCount": 56, "tickMinStep": 1, "labelExpr": "(datum.value+4)%3==0 ? '' + datum.value : ''", "title": "Days after H7N7 primary inoculation", "titleFontSize": 15, "titlePadding": 10}},
    "y": {"field": "val", "type": "quantitative", "scale": {"domain": [15, 40], "reverse": true, "nice": false, "zero": false}, "axis": {"tickCount": 5, "title": null}}},
   "layer": [
    {"transform": [{"filter": "datum.s=='c'"}], "mark": {"type": "line", "color": "#e06666", "strokeWidth": 1, "strokeDash": [1.5, 1.5]}, "encoding": {}},
    {"transform": [{"filter": "datum.s=='c'"}], "mark": {"type": "point", "shape": "square", "filled": true, "color": "#c0201e", "stroke": "#800000", "strokeWidth": 0.5, "size": 20, "opacity": 1}, "encoding": {}},
    {"transform": [{"filter": "datum.s=='f'"}], "mark": {"type": "line", "color": "#4f9a4f", "strokeWidth": 1.1}, "encoding": {}},
    {"transform": [{"filter": "datum.s=='f'"}], "mark": {"type": "point", "shape": "triangle-up", "filled": true, "color": "#1e7b1e", "stroke": "#0b5a0b", "strokeWidth": 0.5, "size": 28, "opacity": 1}, "encoding": {}},
    {"transform": [{"filter": "datum.s=='w'"}], "mark": {"type": "line", "color": "#6a6aff", "strokeWidth": 1}, "encoding": {}},
    {"transform": [{"filter": "datum.s=='w'"}], "mark": {"type": "point", "shape": "diamond", "filled": true, "color": "#0000cc", "size": 26, "opacity": 1}, "encoding": {}},
    {"transform": [{"filter": "false"}], "mark": {"type": "point", "filled": true, "opacity": 1},
     "encoding": {
      "shape": {"field": "s", "type": "nominal", "title": null, "scale": {"domain": ["Cloacal swabs", "Fecal swabs", "Water samples"], "range": ["M-0.9,0H-0.8M-0.66,0H-0.56M-0.42,0H-0.32M-0.18,0H-0.08M0.06,0H0.16M0.3,0H0.4M1.2,0H1.3M1.44,0H1.54M1.68,0H1.78M1.92,0H2.02M2.16,0H2.26M2.4,0H2.5M0.52,-0.28H1.08V0.28H0.52Z", "M-0.9,0H0.5M1.1,0H2.5M0.5,0.25L0.8,-0.3L1.1,0.25Z", "M-0.9,0H0.5M1.1,0H2.5M0.8,-0.3L1.1,0L0.8,0.3L0.5,0Z"]}},
      "fill": {"field": "s", "type": "nominal", "title": null, "scale": {"domain": ["Cloacal swabs", "Fecal swabs", "Water samples"], "range": ["#c0201e", "#1e7b1e", "#0000cc"]}},
      "stroke": {"field": "s", "type": "nominal", "title": null, "scale": {"domain": ["Cloacal swabs", "Fecal swabs", "Water samples"], "range": ["#d84a4a", "#3f8f3f", "#4a4af0"]}}}}]},
  {"data": {"values": [{}]}, "mark": {"type": "text", "font": "Liberation Sans", "fontSize": 14, "fontWeight": "bold", "color": "#000"}, "encoding": {
    "x": {"datum": 22, "type": "quantitative", "scale": {"domain": [-4.2, 51.3], "nice": false, "zero": false}, "axis": {"tickCount": 56, "tickMinStep": 1, "labelExpr": "(datum.value+4)%3==0 ? '' + datum.value : ''", "title": "Days after H7N7 primary inoculation", "titleFontSize": 15, "titlePadding": 10}},
    "y": {"datum": 16.1, "type": "quantitative", "scale": {"domain": [15, 40], "reverse": true, "nice": false, "zero": false}, "axis": {"tickCount": 5, "title": null}},
    "text": {"value": "M6"}}}
 ]}
]
}
